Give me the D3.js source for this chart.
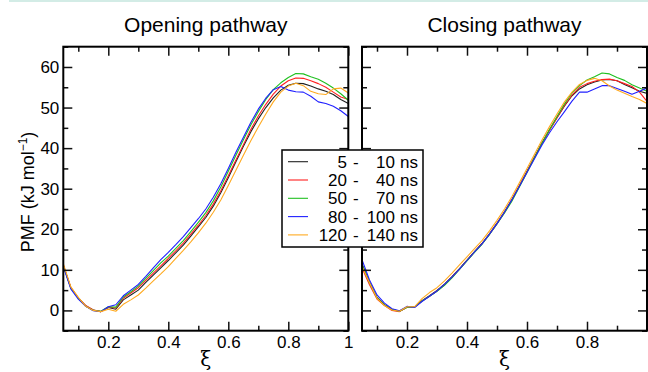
<!DOCTYPE html>
<html><head><meta charset="utf-8">
<script src="https://cdn.jsdelivr.net/npm/d3@7"></script>
<style>html,body{margin:0;padding:0;background:#fff;overflow:hidden}</style>
</head><body>
<script>
// ---- data ----
const xi = d3.range(39).map(i => +(0.05 + i * 0.025).toFixed(3));
const seriesNames = ["5-10", "20-40", "50-70", "80-100", "120-140"];
const rangeStart = ["5", "20", "50", "80", "120"];
const rangeEnd = ["10", "40", "70", "100", "140"];
const seriesColors = ["#222222", "#ff2020", "#20c020", "#2020ff", "#ffaa20"];

const openBlack  = [11.0,5.6,3.0,1.1,0.1,-0.3,0.7,0.3,2.6,3.8,5.0,6.9,8.7,10.5,12.3,14.2,16.1,18.3,20.6,22.9,25.7,29.0,32.7,36.6,40.4,44.0,47.2,50.0,52.4,54.3,55.5,56.0,55.9,55.3,54.6,54.0,53.2,52.0,51.0];
const openRed    = [11.2,5.7,3.1,1.2,0.1,-0.3,0.8,0.6,3.0,4.3,5.6,7.4,9.2,11.0,12.8,14.7,16.6,18.8,21.0,23.4,26.2,29.5,33.2,37.0,40.8,44.6,47.9,50.8,53.3,55.3,56.6,57.3,57.2,56.6,55.9,55.0,53.8,52.6,52.0];
const openGreen  = [11.0,5.5,3.0,1.0,0.0,-0.2,0.9,0.8,3.3,4.6,6.0,7.9,9.8,11.7,13.4,15.3,17.2,19.4,21.7,24.1,27.0,30.4,34.3,38.2,42.0,45.7,49.0,52.0,54.4,56.1,57.4,58.4,58.3,57.6,57.0,56.0,54.8,53.4,51.8];
const openBlue   = [10.8,5.3,2.8,1.0,-0.1,-0.3,0.9,1.4,3.6,5.0,6.4,8.4,10.5,12.5,14.3,16.2,18.2,20.4,22.6,25.0,27.9,31.2,35.0,38.9,42.6,46.3,49.6,52.3,54.4,55.2,54.3,53.9,53.8,52.8,51.4,51.0,50.3,49.2,47.8];
const openOrange = [11.5,5.8,3.2,1.0,0.0,-0.3,0.3,-0.2,1.5,2.6,3.8,5.5,7.3,9.0,10.8,12.8,14.8,16.9,19.1,21.5,24.2,27.2,30.8,34.5,38.2,41.8,45.2,48.4,51.4,53.8,55.3,56.0,55.4,54.0,53.4,53.2,54.6,54.8,53.6];

const closeBlack  = [11.5,7.0,3.2,1.4,0.3,-0.2,0.8,0.8,2.4,3.6,4.9,6.5,8.3,10.3,12.4,14.5,16.5,18.9,21.5,24.3,27.4,30.8,34.3,37.8,41.3,44.5,47.5,50.4,52.9,54.6,55.6,56.3,56.8,56.9,56.6,55.7,54.9,54.0,53.5];
const closeRed    = [10.5,6.3,2.8,1.2,0.0,-0.3,0.8,0.8,2.3,3.5,4.8,6.3,8.2,10.2,12.3,14.4,16.4,18.8,21.4,24.2,27.3,30.7,34.2,37.7,41.2,44.4,47.5,50.5,53.1,55.0,55.9,56.5,56.9,57.0,56.6,55.9,55.2,53.8,51.5];
const closeGreen  = [11.2,6.8,3.1,1.3,0.2,-0.2,0.8,0.8,2.3,3.5,4.7,6.2,8.0,10.1,12.2,14.3,16.3,18.7,21.3,24.0,27.0,30.5,34.0,37.6,41.2,44.6,47.8,50.9,53.6,55.4,56.8,57.6,58.5,58.3,57.4,56.7,55.6,54.8,54.0];
const closeBlue   = [12.5,7.5,3.8,1.8,0.4,-0.1,1.0,0.7,2.2,3.5,4.8,6.4,8.2,10.2,12.3,14.4,16.4,18.8,21.4,24.2,27.3,30.6,34.0,37.4,40.8,43.8,46.5,49.0,51.6,53.8,53.8,54.6,55.4,55.4,54.7,54.0,53.3,54.0,54.8];
const closeOrange = [10.8,6.8,3.0,1.2,0.1,-0.2,0.9,0.9,2.9,4.4,5.6,7.3,9.2,11.2,13.2,15.2,17.2,19.6,22.2,25.0,28.1,31.5,35.0,38.5,42.0,45.3,48.4,51.4,53.8,55.7,56.7,57.2,56.6,55.3,54.3,53.5,52.7,52.0,51.0];

const xMajor = [0.2, 0.4, 0.6, 0.8, 1.0];
const xMinor = [0.1, 0.3, 0.5, 0.7, 0.9];
const yMajor = [0, 10, 20, 30, 40, 50, 60];
const yMinor = [-5, 5, 15, 25, 35, 45, 55, 65];
const xLabelsLeft = ["0.2", "0.4", "0.6", "0.8", "1"];
const xLabelsRight = ["0.2", "0.4", "0.6", "0.8", ""];
const titles = ["Opening pathway", "Closing pathway"];

// ---- layout ----
const W = 648, H = 372;
const font = "'Liberation Sans', Arial, Helvetica, sans-serif";
const svg = d3.select("body").append("svg").attr("width", W).attr("height", H);

svg.append("rect").attr("x", 9).attr("y", 0).attr("width", W - 9).attr("height", 2).attr("fill", "#d3ece6");

const panels = [
  { x0: 63.3, x1: 348.3, data: [openBlack, openRed, openGreen, openBlue, openOrange], labels: xLabelsLeft, yLabels: true, title: titles[0] },
  { x0: 362, x1: 647, data: [closeBlack, closeRed, closeGreen, closeBlue, closeOrange], labels: xLabelsRight, yLabels: false, title: titles[1] }
];
const yTop = 46.7, yBot = 330.7;
const y = d3.scaleLinear().domain([-5, 65]).range([yBot, yTop]);

panels.forEach((p, pi) => {
  const x = d3.scaleLinear().domain([0.05, 1]).range([p.x0, p.x1]);
  const g = svg.append("g");
  const clipId = "clip" + pi;
  svg.append("clipPath").attr("id", clipId).append("rect")
    .attr("x", p.x0).attr("y", yTop).attr("width", p.x1 - p.x0).attr("height", yBot - yTop);

  const line = d3.line().x((d, i) => x(xi[i])).y(d => y(d));
  const lg = g.append("g").attr("clip-path", `url(#${clipId})`);
  p.data.forEach((s, si) => {
    lg.append("path").datum(s).attr("d", line).attr("fill", "none")
      .attr("stroke", seriesColors[si]).attr("stroke-width", 1.1).attr("stroke-linejoin", "round");
  });

  const styleAxis = sel => {
    sel.select(".domain").remove();
    sel.selectAll(".tick line").attr("stroke", "#111").attr("stroke-width", 1.5);
    sel.selectAll("text").attr("font-family", font).attr("font-size", 17).attr("fill", "#000");
  };
  // bottom
  g.append("g").attr("transform", `translate(0,${yBot})`)
    .call(d3.axisBottom(x).tickValues(xMajor).tickSize(-9).tickPadding(5).tickFormat((d, i) => p.labels[i])).call(styleAxis);
  g.append("g").attr("transform", `translate(0,${yBot})`)
    .call(d3.axisBottom(x).tickValues(xMinor).tickSize(-5).tickFormat("")).call(styleAxis);
  // top
  g.append("g").attr("transform", `translate(0,${yTop})`)
    .call(d3.axisTop(x).tickValues(xMajor).tickSize(-9).tickFormat("")).call(styleAxis);
  g.append("g").attr("transform", `translate(0,${yTop})`)
    .call(d3.axisTop(x).tickValues(xMinor).tickSize(-5).tickFormat("")).call(styleAxis);
  // left
  g.append("g").attr("transform", `translate(${p.x0},0)`)
    .call(d3.axisLeft(y).tickValues(yMajor).tickSize(-9).tickPadding(4).tickFormat(p.yLabels ? d3.format("d") : "")).call(styleAxis);
  g.append("g").attr("transform", `translate(${p.x0},0)`)
    .call(d3.axisLeft(y).tickValues(yMinor).tickSize(-5).tickFormat("")).call(styleAxis);
  // right
  g.append("g").attr("transform", `translate(${p.x1},0)`)
    .call(d3.axisRight(y).tickValues(yMajor).tickSize(-9).tickFormat("")).call(styleAxis);
  g.append("g").attr("transform", `translate(${p.x1},0)`)
    .call(d3.axisRight(y).tickValues(yMinor).tickSize(-5).tickFormat("")).call(styleAxis);

  g.append("rect").attr("x", p.x0).attr("y", yTop).attr("width", p.x1 - p.x0).attr("height", yBot - yTop)
    .attr("fill", "none").attr("stroke", "#000").attr("stroke-width", 2);

  g.append("text").attr("x", (p.x0 + p.x1) / 2).attr("y", 32).attr("text-anchor", "middle")
    .attr("font-family", font).attr("font-size", 21).text(p.title);
  g.append("text").attr("x", (p.x0 + p.x1) / 2).attr("y", 366).attr("text-anchor", "middle")
    .attr("font-family", "'DejaVu Serif', serif").attr("font-size", 20).text("ξ");
});

// y label
const yl = svg.append("text").attr("transform", "translate(34,192) rotate(-90)")
  .attr("text-anchor", "middle").attr("font-family", font).attr("font-size", 18);
yl.append("tspan").text("PMF (kJ mol");
yl.append("tspan").attr("font-size", 12).attr("dy", -7).text("−1");
yl.append("tspan").attr("dy", 7).text(")");

// legend
const lgd = svg.append("g");
lgd.append("rect").attr("x", 282).attr("y", 150).attr("width", 141).attr("height", 97)
  .attr("fill", "#fff").attr("stroke", "#000").attr("stroke-width", 1.5);
seriesNames.forEach((n, i) => {
  const cy = 161.7 + i * 18.3;
  lgd.append("line").attr("x1", 288).attr("x2", 308).attr("y1", cy).attr("y2", cy)
    .attr("stroke", seriesColors[i]).attr("stroke-width", 1.1);
  const t = (xx, anchor, s) => lgd.append("text").attr("x", xx).attr("y", cy + 6).attr("text-anchor", anchor)
    .attr("font-family", font).attr("font-size", 17).text(s);
  t(347, "end", rangeStart[i]);
  t(353, "start", "-");
  t(395, "end", rangeEnd[i]);
  t(400, "start", "ns");
});
</script>
</body></html>
